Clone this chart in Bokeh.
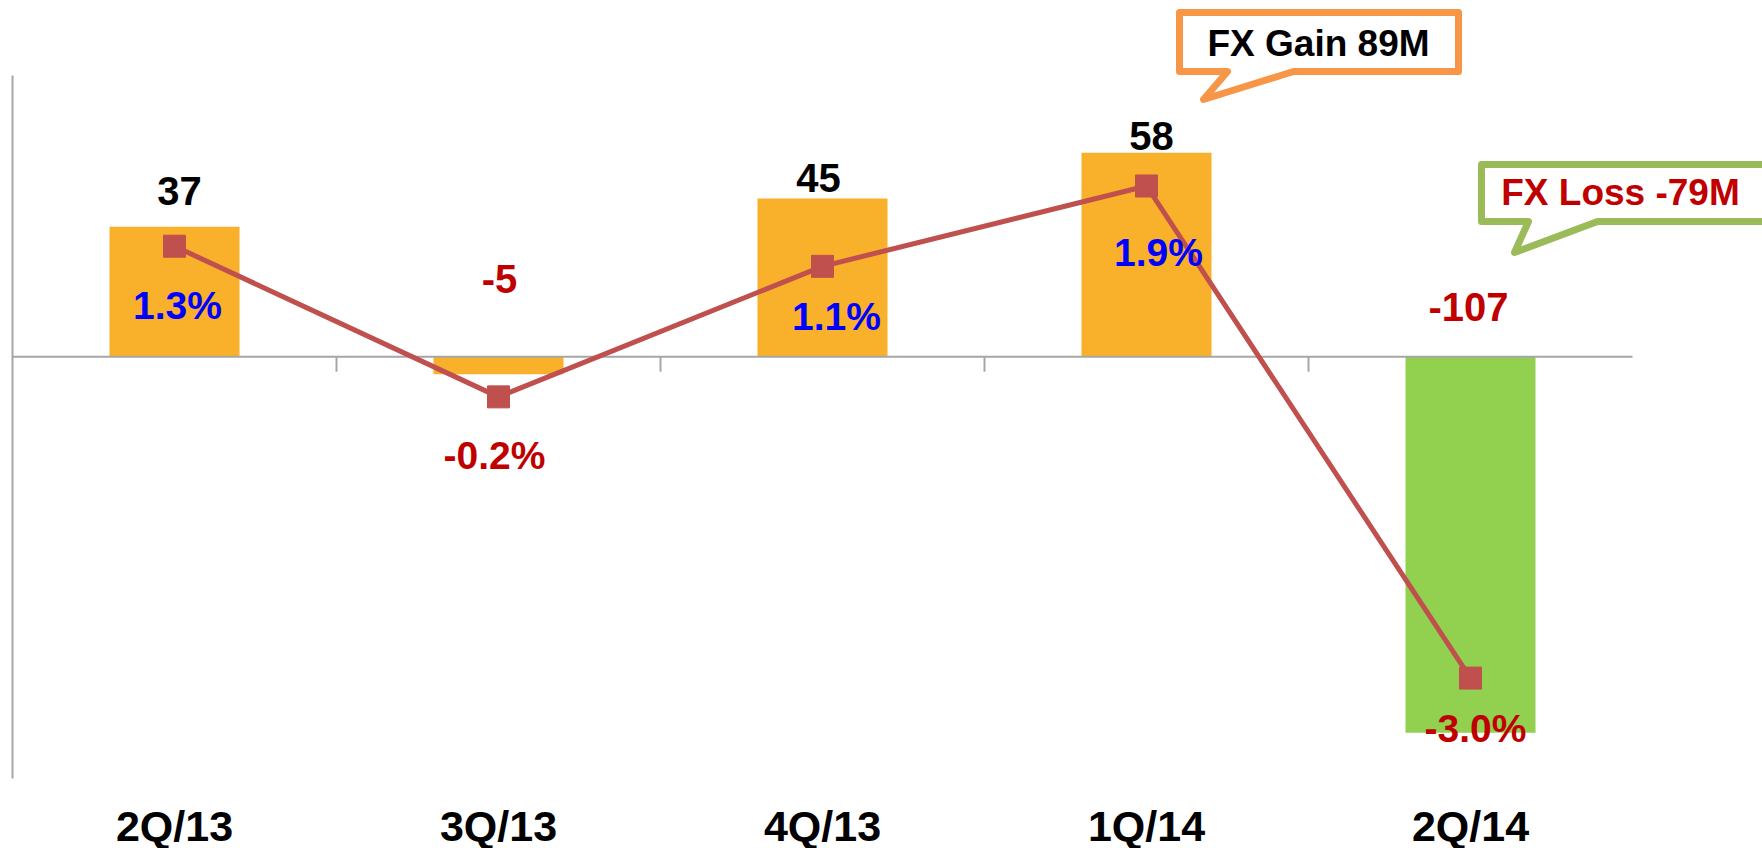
from bokeh.plotting import figure
from bokeh.models import Range1d, FixedTicker, ColumnDataSource
from bokeh.core.properties import value
from bokeh.embed import file_html
from bokeh.resources import INLINE

# ---------------- data ----------------
quarters = ["2Q/13", "3Q/13", "4Q/13", "1Q/14", "2Q/14"]
net_income = [37, -5, 45, 58, -107]          # bars (primary axis)
net_margin_pct = [1.3, -0.2, 1.1, 1.9, -3.0]  # line (secondary axis, %)
callout_texts = ["FX Gain 89M", "FX Loss -79M"]
callout_quarters = ["1Q/14", "2Q/14"]

# ---------------- styles / layout ----------------
BAR_COLORS = ["#F9B02B", "#F9B02B", "#F9B02B", "#F9B02B", "#92D050"]
LINE_COLOR = "#C0504D"
AXIS_COLOR = "#A6A6A6"
NEG_TEXT = "#C00000"
POS_PCT_TEXT = "#0000FF"
CALLOUT_BORDER = ["#F79646", "#9BBB59"]
CALLOUT_TEXT = ["#000000", "#C00000"]
FONT = value("Liberation Sans")

CAT_PX = 324          # width of one category slot in px
PLOT_H = 703          # height of the chart's plot area in px
HEAD_PX = 75          # space above the plot area inside the frame
FOOT_PX = 9           # space below the plot area inside the frame
LEFT_PAD_PX = 12
FRAME_W = 1762
FRAME_H = HEAD_PX + PLOT_H + FOOT_PX
Y_MIN, Y_MAX = -120, 80
Y2_MIN, Y2_MAX = -4, 3
PPU = PLOT_H / (Y_MAX - Y_MIN)
PPU2 = PLOT_H / (Y2_MAX - Y2_MIN)

VAL_FS, PCT_FS, CALL_FS = 40, 39, 37
BASE_FIX = 0.385      # alphabetic-baseline correction (em)

# label nudges (px; x right, y down)
val_dx = [5, 1, -4, 5, -2]
val_dy = [-20, -62, -5, -1, -34]
pct_dx = [3, -4, 14, 12, 5]
pct_dy = [74, 74, 65, 82, 65]

# callout geometry: px relative to anchor category centre (x) and plot top (y)
callout_shapes = [
    dict(box=(33, 312, -63, -4), base=(81, 147), tip=(57, 24), text=(172, -18)),
    dict(box=(11, 320, 89, 146), base=(58, 127), tip=(44, 177), text=(150, 131)),
]

n = len(quarters)
xc = [i + 0.5 for i in range(n)]

p = figure(frame_width=FRAME_W - 0, frame_height=FRAME_H,
           x_range=Range1d(-LEFT_PAD_PX / CAT_PX, (FRAME_W - LEFT_PAD_PX) / CAT_PX),
           y_range=Range1d(Y_MIN - FOOT_PX / PPU, Y_MAX + HEAD_PX / PPU),
           y_axis_location=None, toolbar_location=None, output_backend="svg",
           min_border=0, min_border_left=0, min_border_right=0,
           min_border_top=0, min_border_bottom=0,
           background_fill_color="white", border_fill_color="white")
p.extra_y_ranges = {"pct": Range1d(Y2_MIN - FOOT_PX / PPU2, Y2_MAX + HEAD_PX / PPU2)}
p.outline_line_color = None
p.grid.visible = False

# category axis
ax = p.xaxis[0]
ax.ticker = FixedTicker(ticks=xc)
ax.major_label_overrides = {x: q for x, q in zip(xc, quarters)}
ax.axis_line_color = None
ax.major_tick_line_color = None
ax.minor_tick_line_color = None
ax.major_label_text_font = "Liberation Sans"
ax.major_label_text_font_style = "bold"
ax.major_label_text_font_size = "43px"
ax.major_label_text_color = "#000000"
ax.major_label_standoff = 8

# bars
p.vbar(x=xc, top=net_income, bottom=0, width=130 / CAT_PX,
       fill_color=BAR_COLORS, line_color=None)

# axis lines drawn as in the source chart
p.segment(x0=[0], y0=[Y_MIN], x1=[0], y1=[Y_MAX], line_color=AXIS_COLOR, line_width=2)
p.segment(x0=[0], y0=[0], x1=[n], y1=[0], line_color=AXIS_COLOR, line_width=2)
bx = list(range(1, n))
p.segment(x0=bx, y0=[0] * len(bx), x1=bx, y1=[-15 / PPU] * len(bx),
          line_color=AXIS_COLOR, line_width=2)

# line series on secondary range
p.line(xc, net_margin_pct, y_range_name="pct", line_color=LINE_COLOR, line_width=5)
p.scatter(xc, net_margin_pct, y_range_name="pct", marker="square", size=22,
          fill_color=LINE_COLOR, line_color=LINE_COLOR)

# value labels
val_src = ColumnDataSource(dict(
    x=xc, y=[max(v, 0) for v in net_income],
    t=[str(v) for v in net_income],
    c=["#000000" if v >= 0 else NEG_TEXT for v in net_income],
    dx=val_dx, dy=[d - BASE_FIX * VAL_FS for d in val_dy]))
p.text(x="x", y="y", text="t", text_color="c", x_offset="dx", y_offset="dy",
       source=val_src, text_font=FONT, text_font_style="bold",
       text_font_size=f"{VAL_FS}px", text_align="center", text_baseline="alphabetic")

# percent labels
pct_src = ColumnDataSource(dict(
    x=xc, y=net_margin_pct,
    t=[f"{v:.1f}%" for v in net_margin_pct],
    c=[POS_PCT_TEXT if v >= 0 else NEG_TEXT for v in net_margin_pct],
    dx=pct_dx, dy=[d - BASE_FIX * PCT_FS for d in pct_dy]))
p.text(x="x", y="y", text="t", text_color="c", x_offset="dx", y_offset="dy",
       y_range_name="pct", source=pct_src, text_font=FONT, text_font_style="bold",
       text_font_size=f"{PCT_FS}px", text_align="center", text_baseline="alphabetic")

# callouts
def cx(i, dx):
    return i + 0.5 + dx / CAT_PX

def cy(dy):
    return Y_MAX - dy / PPU

for txt, q, shp, bcol, tcol in zip(callout_texts, callout_quarters, callout_shapes,
                                   CALLOUT_BORDER, CALLOUT_TEXT):
    i = quarters.index(q)
    l, r, t, b = shp["box"]
    bl, br = shp["base"]
    tx, ty = shp["tip"]
    xs = [cx(i, l), cx(i, r), cx(i, r), cx(i, br), cx(i, tx), cx(i, bl), cx(i, l)]
    ys = [cy(t), cy(t), cy(b), cy(b), cy(ty), cy(b), cy(b)]
    p.patch(xs, ys, fill_color="white", line_color=bcol, line_width=7,
            line_join="round")
    p.text(x=[cx(i, shp["text"][0])], y=[cy(shp["text"][1] - BASE_FIX * CALL_FS)],
           text=[txt], text_color=tcol, text_font=FONT, text_font_style="bold",
           text_font_size=f"{CALL_FS}px", text_align="center",
           text_baseline="alphabetic")

open("out.html", "w").write(file_html(p, INLINE))
